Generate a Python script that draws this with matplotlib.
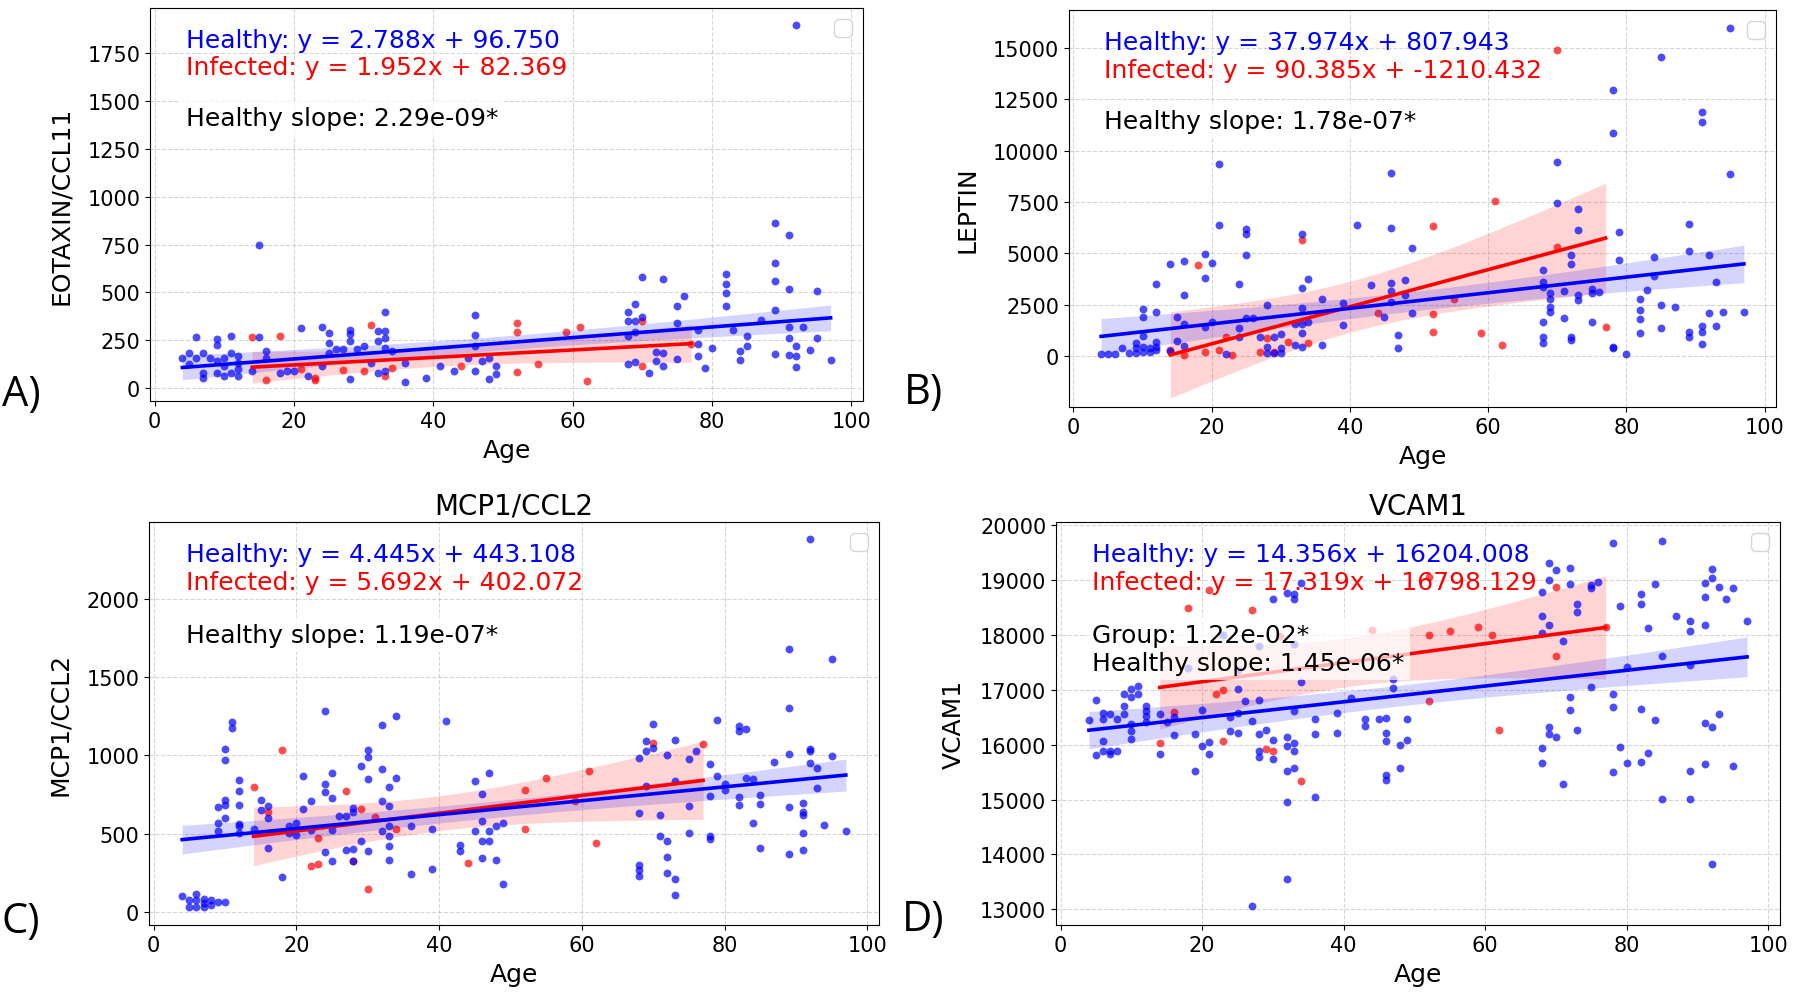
import numpy as np
import matplotlib.pyplot as plt

plt.rcParams['font.family'] = 'DejaVu Sans'

# ============================================================
# DONNEES (age, valeur)
# ============================================================

eotaxin_healthy = [
    (4, 159), (5, 185), (5, 124), (6, 265), (6, 159), (7, 185), (7, 81), (7, 55), (8, 159),
    (9, 258), (9, 227), (9, 81), (9, 140), (10, 159), (10, 116), (10, 65), (11, 274), (11, 185),
    (11, 81), (12, 168), (12, 133), (12, 98), (12, 65), (14, 89), (15, 265), (15, 750), (16, 195),
    (16, 159), (18, 81), (19, 89), (20, 89), (21, 313), (22, 65), (24, 317), (24, 116), (25, 288),
    (25, 236), (25, 185), (26, 202), (27, 202), (28, 302), (28, 285), (28, 245), (28, 48), (29, 202),
    (30, 219), (31, 133), (32, 298), (32, 245), (32, 81), (33, 396), (33, 298), (33, 262), (33, 211),
    (33, 89), (34, 195), (36, 133), (36, 30), (39, 55), (41, 116), (43, 89), (45, 159), (46, 383),
    (46, 276), (46, 219), (46, 89), (47, 142), (48, 159), (48, 48), (49, 116), (49, 72),
    (68, 400), (69, 438), (70, 578), (73, 568), (68, 353), (69, 353), (70, 374), (68, 270), (69, 291),
    (68, 124), (69, 136), (71, 81), (72, 188), (72, 141), (73, 185), (73, 116), (75, 429), (75, 339),
    (75, 150), (76, 481), (78, 305), (78, 233), (78, 168), (79, 103), (80, 212), (82, 595), (82, 543),
    (82, 497), (82, 431), (83, 305), (84, 193), (84, 147), (85, 270), (85, 219), (87, 355), (89, 861),
    (89, 655), (89, 560), (89, 408), (89, 181), (91, 798), (91, 517), (91, 319), (91, 262), (91, 172),
    (92, 219), (92, 110), (92, 167), (92, 1897), (93, 319), (94, 198), (95, 505), (95, 262), (97, 147),
]
eotaxin_infected = [
    (14, 267), (16, 43), (18, 271), (21, 98), (23, 55), (23, 45), (27, 93), (30, 89), (31, 331),
    (33, 63), (34, 107), (44, 116), (52, 340), (52, 292), (52, 85), (55, 124), (59, 294), (61, 320),
    (62, 39), (70, 350), (70, 114), (77, 233),
]

leptin_healthy = [
    (4, 98), (5, 98), (6, 98), (7, 375), (8, 130), (9, 652), (9, 375), (9, 163), (10, 2283), (10, 1925),
    (10, 979), (10, 457), (10, 212), (11, 375), (11, 212), (12, 3523), (12, 2169), (12, 701), (12, 457),
    (12, 294), (14, 261), (14, 4502), (15, 1892), (15, 734), (16, 4616), (16, 2968), (16, 1566), (16, 489),
    (19, 4991), (19, 3784), (19, 1403), (20, 4534), (20, 1680), (21, 6410), (21, 9343), (22, 98),
    (24, 3523), (24, 1354), (24, 946), (25, 6198), (25, 5953), (25, 4942), (25, 1843), (26, 1843),
    (27, 946), (28, 2495), (28, 457), (28, 130), (29, 946), (29, 130), (30, 1076), (30, 130), (30, 375),
    (32, 1566), (32, 538), (33, 5969), (33, 3311), (33, 2332), (33, 1566), (33, 1109), (33, 424),
    (34, 3751), (34, 1680), (36, 2773), (36, 538), (39, 1517), (39, 2610), (41, 6410), (43, 3474),
    (45, 1925), (46, 6247), (46, 3556), (46, 3148), (46, 2659), (46, 8935), (47, 375), (47, 1028),
    (48, 3719), (48, 2985), (49, 5268), (49, 2088),
    (68, 4175), (68, 3588), (68, 3360), (68, 1680), (68, 946), (68, 620), (69, 3066), (69, 2773),
    (69, 2381), (69, 2169), (70, 7470), (70, 9457), (71, 3148), (71, 1843), (72, 4942), (72, 4502),
    (72, 946), (72, 783), (73, 7144), (73, 6165), (73, 2985), (73, 2740), (75, 3262), (75, 3066),
    (76, 3099), (75, 1680), (78, 375), (78, 456), (78, 12977), (78, 10891), (79, 6035), (79, 4697),
    (80, 98), (82, 2773), (82, 2251), (82, 1794), (82, 1109), (83, 3229), (84, 4828), (84, 3882),
    (85, 2495), (85, 1354), (85, 14560), (87, 2381), (89, 6459), (89, 5105), (89, 1191), (89, 913),
    (91, 1468), (91, 1191), (91, 587), (91, 11870), (91, 11413), (92, 4942), (92, 2088), (93, 3604),
    (93, 1468), (94, 2169), (95, 8854), (95, 15984), (97, 2137),
]
leptin_infected = [
    (14, 300), (16, 49), (18, 4436), (19, 212), (21, 294), (22, 946), (23, 49), (27, 212), (28, 864),
    (29, 212), (31, 701), (33, 5643), (34, 620), (44, 2120), (52, 6328), (52, 2039), (52, 1191),
    (55, 2789), (59, 1109), (61, 7552), (62, 538), (70, 5300), (70, 14935), (77, 1435),
]

mcp1_healthy = [
    (4, 101), (5, 75), (5, 32), (6, 113), (6, 75), (6, 32), (7, 79), (7, 32), (7, 55), (8, 75), (8, 43),
    (9, 64), (10, 64), (9, 670), (9, 567), (9, 518), (10, 1043), (10, 968), (10, 717), (10, 685),
    (10, 600), (11, 1214), (11, 1178), (12, 841), (12, 771), (12, 685), (12, 563), (12, 546), (12, 503),
    (14, 529), (15, 717), (15, 649), (16, 674), (16, 407), (16, 600), (18, 221), (19, 546), (19, 503),
    (20, 567), (20, 492), (21, 867), (21, 657), (22, 707), (22, 525), (24, 1287), (24, 814), (24, 764),
    (24, 379), (25, 889), (25, 728), (25, 525), (25, 325), (26, 610), (27, 610), (27, 396), (28, 664),
    (28, 636), (28, 402), (28, 321), (29, 931), (29, 450), (30, 1034), (30, 991), (30, 385), (30, 846),
    (32, 1193), (32, 910), (32, 707), (32, 518), (33, 799), (33, 674), (33, 422), (33, 332), (33, 546),
    (33, 486), (34, 1252), (34, 856), (36, 546), (36, 242), (39, 272), (39, 529), (41, 1220),
    (43, 428), (43, 385), (45, 835), (45, 514), (46, 750), (46, 578), (46, 450), (46, 343), (47, 888),
    (47, 514), (47, 450), (48, 332), (48, 546), (49, 567), (49, 178),
    (68, 985), (68, 632), (68, 300), (68, 268), (68, 225), (69, 1092), (69, 1028), (69, 807),
    (70, 1199), (70, 1049), (71, 621), (71, 482), (72, 1000), (72, 450), (72, 349), (72, 246),
    (73, 1098), (73, 835), (73, 210), (73, 107), (75, 978), (75, 679), (75, 503), (76, 1028),
    (78, 948), (78, 743), (78, 482), (78, 465), (79, 1227), (79, 871), (80, 814), (80, 777),
    (82, 1188), (82, 1156), (82, 734), (82, 685), (83, 1167), (83, 856), (84, 846), (84, 567),
    (85, 749), (85, 689), (85, 407), (87, 957), (89, 1306), (89, 1006), (89, 670), (89, 368),
    (89, 1681), (91, 696), (91, 636), (91, 621), (91, 503), (91, 396), (92, 1038), (92, 1028),
    (92, 953), (92, 2388), (93, 921), (93, 792), (94, 557), (95, 996), (95, 1617), (97, 514),
]
mcp1_infected = [
    (14, 796), (16, 636), (18, 1034), (22, 289), (23, 306), (23, 471), (27, 771), (28, 321), (29, 657),
    (30, 143), (31, 606), (34, 529), (44, 310), (52, 781), (52, 531), (55, 856), (59, 711), (61, 899),
    (62, 439), (70, 1077), (77, 1071),
]

vcam1_healthy = [
    (4, 16455), (5, 16812), (5, 15816), (6, 16468), (6, 16570), (6, 16072), (6, 15890), (7, 16558),
    (7, 15890), (7, 15830), (8, 16468), (8, 15890), (9, 16923), (9, 16711), (9, 16558), (10, 17013),
    (10, 16862), (10, 16376), (10, 16254), (10, 16103), (11, 17074), (11, 16923), (12, 16711),
    (12, 16619), (12, 16528), (12, 16407), (14, 16558), (14, 15829), (15, 16419), (16, 16182),
    (16, 16498), (19, 16194), (19, 15526), (20, 16631), (20, 15982), (21, 16042), (21, 15829),
    (24, 16254), (24, 16498), (25, 17013), (25, 16570), (25, 16206), (26, 16801), (27, 16437),
    (28, 16812), (28, 16194), (28, 15890), (28, 15768), (29, 16266), (30, 16084), (30, 15737),
    (32, 16133), (32, 15982), (32, 15526), (32, 14949), (33, 16619), (33, 16024), (33, 15890),
    (33, 15575), (34, 17135), (36, 16468), (36, 16194), (36, 15040), (30, 18655), (32, 18764),
    (33, 18733), (33, 18642), (34, 18935), (18, 17400), (23, 17990), (25, 17360), (28, 17800),
    (33, 17830), (27, 13061), (32, 13545), (39, 16582), (39, 16218), (41, 16855), (43, 16461),
    (43, 16339), (45, 16461), (46, 16491), (46, 16218), (46, 16061), (46, 15455), (46, 15364),
    (47, 17188), (47, 17036), (48, 16000), (48, 15576), (49, 16473), (49, 16091),
    (68, 18774), (68, 18349), (68, 18027), (68, 15939), (68, 15666), (69, 19308), (69, 18987),
    (69, 18180), (69, 16315), (69, 16194), (70, 19169), (70, 16145), (71, 17882), (71, 15282),
    (72, 19211), (72, 18926), (72, 16874), (72, 16631), (73, 18561), (73, 18410), (73, 16273),
    (75, 18896), (75, 18853), (75, 17056), (76, 18968), (78, 19667), (78, 16923), (78, 16692),
    (78, 15496), (79, 18519), (79, 15951), (80, 17407), (80, 15660), (82, 18744), (82, 18562),
    (82, 16649), (82, 15678), (83, 18119), (83, 15841), (84, 18914), (84, 16449), (85, 19704),
    (85, 17603), (85, 15010), (87, 18337), (89, 18258), (89, 18064), (89, 17457), (89, 15514),
    (89, 15010), (91, 18938), (91, 18683), (91, 18168), (91, 16388), (91, 15648), (92, 19199),
    (92, 19035), (92, 16327), (92, 13818), (93, 18865), (93, 16558), (94, 18641), (95, 18853),
    (95, 15605), (97, 18246),
]
vcam1_infected = [
    (14, 16030), (16, 16588), (18, 18489), (21, 18805), (22, 16923), (23, 16995), (23, 16060),
    (27, 18441), (29, 15920), (30, 15890), (31, 17976), (34, 15344), (44, 18089), (52, 18003),
    (52, 16801), (52, 19048), (55, 18064), (59, 18137), (61, 17997), (62, 16267), (70, 18866),
    (70, 17603), (77, 18137),
]

# coefficients affiches (pente, ordonnee) : sain / infecte
coef_healthy  = [(2.788, 96.750), (37.974, 807.943), (4.445, 443.108), (14.356, 16204.008)]
coef_infected = [(1.952, 82.369), (90.385, -1210.432), (5.692, 402.072), (17.319, 16798.129)]

titles    = ['EOTAXIN/CCL11', 'LEPTIN', 'MCP1/CCL2', 'VCAM1']
pvalues   = ['Healthy slope: 2.29e-09*', 'Healthy slope: 1.78e-07*',
             'Healthy slope: 1.19e-07*', 'Group: 1.22e-02*\nHealthy slope: 1.45e-06*']
letters   = ['A)', 'B)', 'C)', 'D)']
healthy   = [eotaxin_healthy, leptin_healthy, mcp1_healthy, vcam1_healthy]
infected  = [eotaxin_infected, leptin_infected, mcp1_infected, vcam1_infected]

# ============================================================
# MISE EN PAGE (pixels de la figure 1800 x 1003)
# ============================================================

W, H = 1800, 1003
boxes = [(150, 9, 863, 402), (1069, 11, 1776, 408), (149, 523, 879, 926), (1056, 523, 1780, 926)]
ylims = [(-67, 1985), (-2480, 16860), (-86, 2495), (12716, 20051)]
title_pad = [10, 10, 6, 6]
letter_pos = [(2, 395), (904, 393), (2, 922), (902, 920)]


def bande_ic(x, y, pente, origine, xs, t=2.0):
    # intervalle de confiance de la droite (formule OLS)
    n = len(x)
    xm = x.mean()
    sxx = ((x - xm) ** 2).sum()
    resid = y - (pente * x + origine)
    s = np.sqrt((resid ** 2).sum() / (n - 2))
    se = s * np.sqrt(1 / n + (xs - xm) ** 2 / sxx)
    yh = pente * xs + origine
    return yh - t * se, yh + t * se


fig = plt.figure(figsize=(W / 100, H / 100), dpi=100)
fig.patch.set_facecolor('white')

for k in range(4):
    l, t, r, b = boxes[k]
    ax = fig.add_axes([l / W, 1 - b / H, (r - l) / W, (b - t) / H])

    groupes = [(np.array(infected[k], float), coef_infected[k], 'red'),
               (np.array(healthy[k], float), coef_healthy[k], 'blue')]
    for pts, (pente, origine), couleur in groupes:
        x, y = pts[:, 0], pts[:, 1]
        ax.scatter(x, y, color=couleur, alpha=0.7, s=32, linewidths=0)
        xs = np.linspace(x.min(), x.max(), 100)
        lo, hi = bande_ic(x, y, pente, origine, xs)
        ax.fill_between(xs, lo, hi, color=couleur, alpha=0.17, linewidth=0)
        ax.plot(xs, pente * xs + origine, color=couleur, linewidth=2.6)

    ax.set_xlim(-0.65, 101.65)
    ax.set_ylim(*ylims[k])
    ax.set_xticks([0, 20, 40, 60, 80, 100])
    ax.grid(True, linestyle='--', alpha=0.5)
    ax.set_axisbelow(True)
    ax.tick_params(labelsize=15)
    ax.set_xlabel('Age', fontsize=18, labelpad=5)
    ax.set_ylabel(titles[k], fontsize=18, labelpad=10)
    ax.set_title(titles[k], fontsize=20, pad=title_pad[k])

    ph, oh = coef_healthy[k]
    pi, oi = coef_infected[k]
    ax.text(0.05, 0.95, f'Healthy: y = {ph:.3f}x + {oh:.3f}', transform=ax.transAxes,
            va='top', color='blue', fontsize=18)
    ax.text(0.05, 0.88, f'Infected: y = {pi:.3f}x + {oi:.3f}', transform=ax.transAxes,
            va='top', color='red', fontsize=18)
    ax.text(0.05, 0.75, pvalues[k], transform=ax.transAxes, va='top', color='black',
            fontsize=18, bbox=dict(facecolor='white', alpha=0.7, edgecolor='none'))

    ax.legend(handles=[], loc='upper right', fontsize=16)

    lx, ly = letter_pos[k]
    fig.text(lx / W, 1 - ly / H, letters[k], fontsize=30, family='Open Sans',
             va='center', ha='left')

plt.savefig('out.png', dpi=100, facecolor='white')
